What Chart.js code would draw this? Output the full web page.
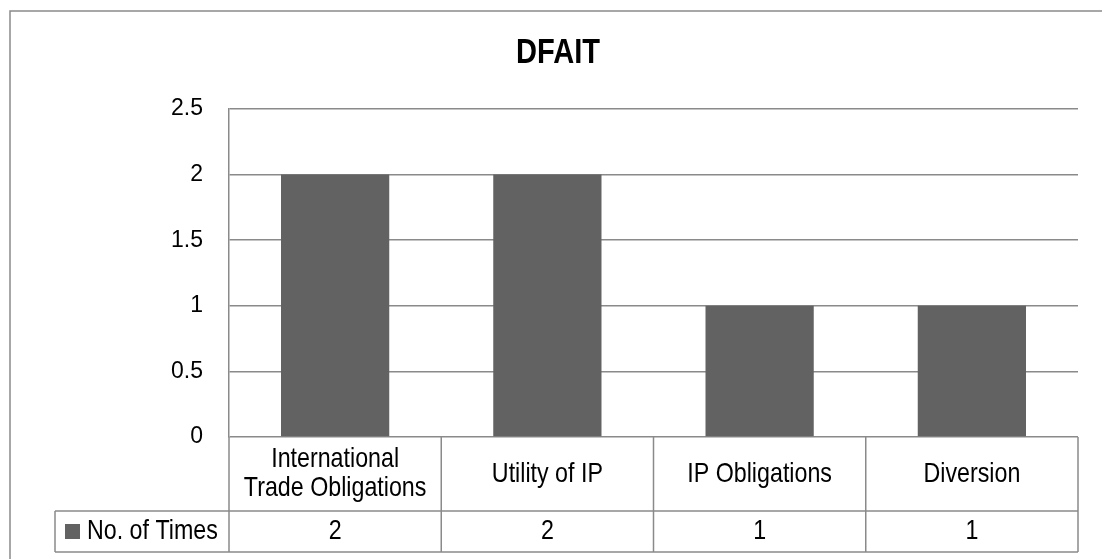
<!DOCTYPE html>
<html>
<head>
<meta charset="utf-8">
<script src="https://cdn.jsdelivr.net/npm/chart.js@4/dist/chart.umd.min.js"></script>
<style>
  html, body { margin: 0; padding: 0; background: #fff; }
  canvas { display: block; }
</style>
</head>
<body>
<canvas id="dfait_chart" width="1102" height="559"></canvas>
<script>
const categories = [
    ['International', 'Trade Obligations'],
    'Utility of IP',
    'IP Obligations',
    'Diversion'
];
const times = [2, 2, 1, 1];
const seriesName = 'No. of Times';
const chartTitle = 'DFAIT';
const yTicks = { min: 0, max: 2.5, step: 0.5 };

const FONT = "'Liberation Sans', Arial, sans-serif";
const LINE = '#8a8a8a';
const BAR = '#626262';
const NARROW = 0.83;

// text squeezed sideways to get a narrow face
function narrowText(ctx, text, x, y, align) {
    ctx.save();
    ctx.translate(x, y);
    ctx.scale(NARROW, 1);
    ctx.textAlign = align || 'center';
    ctx.fillText(text, 0, 0);
    ctx.restore();
}

// title plus the data table under the plot: category row, then the value row with the legend key
const dataTable = {
    id: 'dataTable',
    afterDraw(chart) {
        const ctx = chart.ctx;
        const area = chart.chartArea;
        const x = chart.scales.x;
        const headTop = area.bottom;
        const headBottom = headTop + 74;
        const rowBottom = headBottom + 41;
        const keyLeft = 55;

        ctx.save();
        ctx.strokeStyle = LINE;
        ctx.lineWidth = 1.5;

        // outer frame
        ctx.beginPath();
        ctx.moveTo(10, chart.height);
        ctx.lineTo(10, 11);
        ctx.lineTo(chart.width, 11);
        ctx.stroke();

        ctx.beginPath();
        ctx.moveTo(keyLeft, headBottom);
        ctx.lineTo(area.right, headBottom);
        ctx.moveTo(keyLeft, rowBottom);
        ctx.lineTo(area.right, rowBottom);
        ctx.moveTo(keyLeft, headBottom);
        ctx.lineTo(keyLeft, rowBottom);
        ctx.moveTo(area.left, headTop);
        ctx.lineTo(area.left, rowBottom);
        for (let i = 0; i < categories.length; i++) {
            let edge = i < categories.length - 1
                ? (x.getPixelForValue(i) + x.getPixelForValue(i + 1)) / 2
                : area.right;
            ctx.moveTo(edge, headTop);
            ctx.lineTo(edge, rowBottom);
        }
        ctx.stroke();

        ctx.fillStyle = '#000';
        ctx.textBaseline = 'middle';

        ctx.font = 'bold 35px ' + FONT;
        narrowText(ctx, chartTitle, 558, 53);

        ctx.font = '28px ' + FONT;
        const headMid = (headTop + headBottom) / 2;
        const rowMid = (headBottom + rowBottom) / 2;
        categories.forEach((c, i) => {
            const cx = x.getPixelForValue(i);
            const lines = Array.isArray(c) ? c : [c];
            const lh = 29;
            lines.forEach((t, j) => {
                narrowText(ctx, t, cx, headMid + (j - (lines.length - 1) / 2) * lh);
            });
            narrowText(ctx, String(times[i]), cx, rowMid);
        });

        // legend key
        ctx.fillStyle = BAR;
        ctx.fillRect(keyLeft + 10, rowMid - 7.5, 15, 15);
        ctx.fillStyle = '#000';
        narrowText(ctx, seriesName, keyLeft + 32, rowMid, 'left');
        ctx.restore();
    }
};

const data = {
    labels: categories,
    datasets: [
    {
        label: seriesName,
        data: times,
        backgroundColor: BAR,
        barPercentage: 0.51,
        categoryPercentage: 1
    }]
};

const config = {
    type: 'bar',
    data: data,
    options: {
        responsive: false,
        animation: false,
        layout: {
            padding: { top: 109, right: 24, bottom: 122, left: 0 }
        },
        plugins: {
            legend: { display: false },
            tooltip: { enabled: false },
            title: { display: false }
        },
        scales: {
            x: {
                display: false,
                offset: true
            },
            y: {
                min: yTicks.min,
                max: yTicks.max,
                afterFit(scale) { scale.width = 229; },
                ticks: {
                    stepSize: yTicks.step,
                    color: '#000',
                    padding: 26,
                    font: { family: FONT, size: 23 },
                    callback: (v) => String(v)
                },
                grid: { color: LINE, lineWidth: 1.5, drawTicks: false },
                border: { display: true, color: LINE, width: 1.5 }
            }
        }
    },
    plugins: [dataTable]
};

new Chart(document.getElementById('dfait_chart'), config);
</script>
</body>
</html>
